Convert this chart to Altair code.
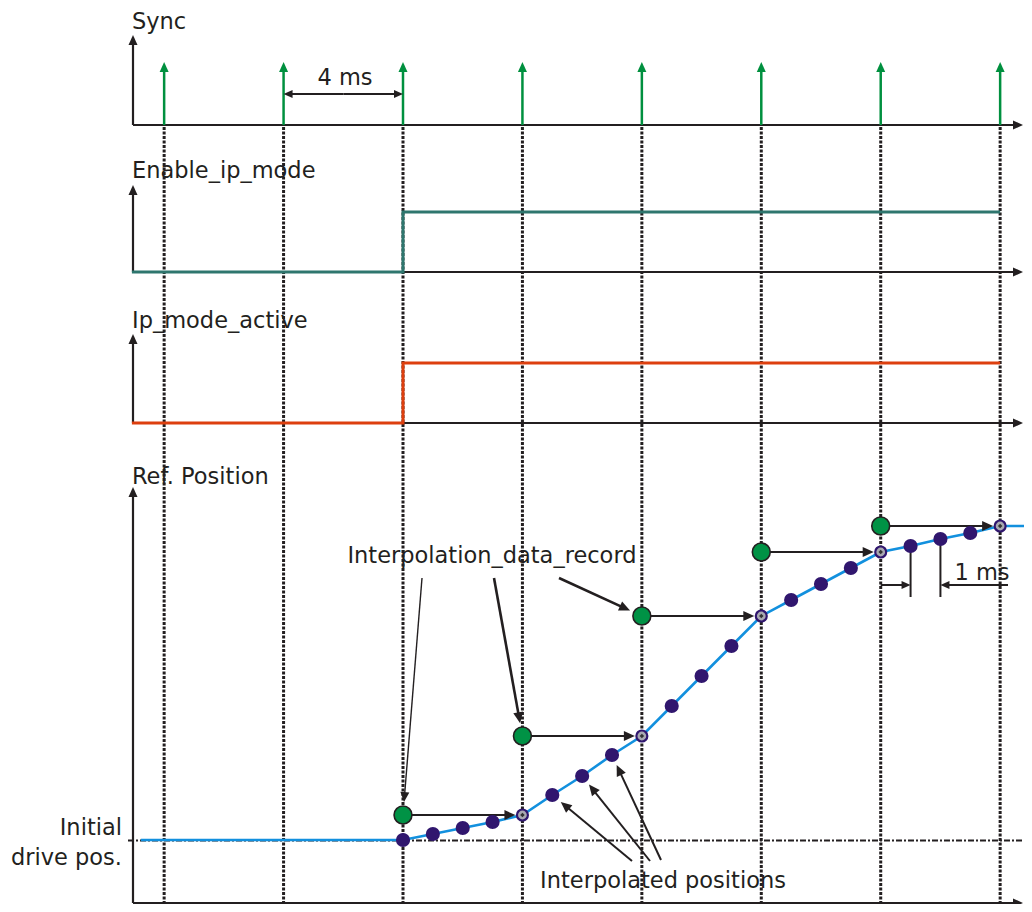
import math
import altair as alt
import pandas as pd

# ---------------- data ----------------
SYNC_T = [-8, -4, 0, 4, 8, 12, 16, 20]                 # sync pulses, ms
ENABLE_T = [-9.08, 0, 0, 20]                           # Enable_ip_mode
ENABLE_V = [0, 0, 1, 1]
IPACT_T = [-9.08, 0, 0, 20]                            # Ip_mode_active
IPACT_V = [0, 0, 1, 1]
INTERP_T = [0, 1, 2, 3, 4, 5, 6, 7, 8, 9, 10, 11, 12, 13, 14, 15, 16, 17, 18, 19, 20]
INTERP_POS = [0, 6, 12, 18, 25, 45, 64, 85, 104, 134, 164, 194, 224,
              240, 256, 272, 288, 294, 301, 307, 314]
HATCH_T = [4, 8, 12, 16, 20]                           # reached record targets
RECORD_T = [0, 4, 8, 12, 16]                           # Interpolation_data_record
RECORD_POS = [25, 104, 224, 288, 314]
HOLD_T0 = -8.78                                        # initial drive pos. held from
LINE_T_END = 20.87
DIM_T = [17, 18]                                       # "1 ms" dimension

# ---------------- layout ----------------
X0 = 403.0          # pixel of t = 0
PPM = 29.857        # pixels per ms


def tx(p):
    return (p - X0) / PPM


def px(t):
    return X0 + t * PPM


AXIS_X = 133
AXIS_END = 1023
SYNC_BASE, SYNC_TOP, PULSE_H = 125, 35, 63
EN_BASE, EN_TOP, EN_H = 272, 185, 60
IP_BASE, IP_TOP, IP_H = 423, 334, 60
REF_BASE, REF_TOP, REF_ZERO = 903, 487, 840
DOT_TOP = 127

INK = "#231F20"
GREEN = "#00903F"
TEAL = "#2E766E"
ORANGE = "#DD3F0E"
BLUE = "#1290DE"
PURPLE = "#30166E"
FONT = "DejaVu Sans"
FS = 22.5

XS = alt.Scale(domain=[tx(8), tx(1024)], nice=False, zero=False)
YS = alt.Scale(domain=[8, 904], reverse=True, nice=False, zero=False)
HEAD = "M0,0L-0.45,1L0.45,1Z"


def X(f="t"):
    return alt.X(f + ":Q", scale=XS, axis=None)


def Y(f="y"):
    return alt.Y(f + ":Q", scale=YS, axis=None)


def arrow(x1, y1, x2, y2, L):
    dx, dy = x2 - x1, y2 - y1
    d = math.hypot(dx, dy)
    ux, uy = dx / d, dy / d
    bx, by = x2 - ux * (L - 1.5), y2 - uy * (L - 1.5)
    ang = math.degrees(math.atan2(dx, -dy)) % 360
    return (tx(x1), y1, tx(bx), by), (tx(x2), y2, ang, (2 * L) ** 2)


def segs(rows, color, width, dash=None):
    df = pd.DataFrame(rows, columns=["t", "y", "t2", "y2"])
    kw = dict(color=color, strokeWidth=width, strokeCap="butt")
    if dash:
        kw["strokeDash"] = dash
    return alt.Chart(df).mark_rule(**kw).encode(
        x=X(), y=Y(), x2="t2:Q", y2="y2:Q")


def heads(rows, color):
    df = pd.DataFrame(rows, columns=["t", "y", "ang", "sz"])
    return alt.Chart(df).mark_point(
        shape=HEAD, filled=True, color=color, opacity=1, strokeWidth=0
    ).encode(x=X(), y=Y(),
             angle=alt.Angle("ang:Q", scale=None),
             size=alt.Size("sz:Q", scale=None))


def arrows(specs, color, width, L):
    s, h = [], []
    for (x1, y1, x2, y2) in specs:
        a, b = arrow(x1, y1, x2, y2, L)
        s.append(a)
        h.append(b)
    return [segs(s, color, width), heads(h, color)]


def ref_y(pos):
    return REF_ZERO - pos


layers = []

# dotted sync grid lines
layers.append(segs([(t, DOT_TOP, t, REF_BASE) for t in SYNC_T], INK, 3, [3, 1.5]))
# initial drive position reference
layers.append(segs([(tx(128), REF_ZERO + 0.5, tx(1024), REF_ZERO + 0.5)], INK, 2, [6, 2, 2, 2]))

# axes
ax_specs = []
for base, top in [(SYNC_BASE, SYNC_TOP), (EN_BASE, EN_TOP), (IP_BASE, IP_TOP), (REF_BASE, REF_TOP)]:
    ax_specs.append((AXIS_X, base, AXIS_X, top))
    ax_specs.append((AXIS_X, base, AXIS_END, base))
layers += arrows(ax_specs, INK, 2.2, 10)

# sync pulses
layers += arrows([(px(t), SYNC_BASE, px(t), SYNC_BASE - PULSE_H) for t in SYNC_T], GREEN, 2.5, 10)

# 4 ms dimension
layers += arrows([(px(-2), 94, px(-4), 94), (px(-2), 94, px(0), 94)], INK, 2, 9)

# logic signals
en_df = pd.DataFrame({"t": ENABLE_T, "y": [EN_BASE - v * EN_H for v in ENABLE_V], "o": range(4)})
layers.append(alt.Chart(en_df).mark_line(color=TEAL, strokeWidth=3).encode(x=X(), y=Y(), order="o:Q"))
ip_df = pd.DataFrame({"t": IPACT_T, "y": [IP_BASE - v * IP_H for v in IPACT_V], "o": range(4)})
layers.append(alt.Chart(ip_df).mark_line(color=ORANGE, strokeWidth=3).encode(x=X(), y=Y(), order="o:Q"))

# reference position line
lt = [HOLD_T0] + INTERP_T + [LINE_T_END]
lp = [0] + INTERP_POS + [INTERP_POS[-1]]
line_df = pd.DataFrame({"t": lt, "y": [ref_y(p) for p in lp], "o": range(len(lt))})
layers.append(alt.Chart(line_df).mark_line(color=BLUE, strokeWidth=2.6).encode(x=X(), y=Y(), order="o:Q"))

# 1 ms dimension
pos_at = dict(zip(INTERP_T, INTERP_POS))
layers.append(segs([(t, ref_y(pos_at[t]), t, 597) for t in DIM_T], INK, 2))
layers += arrows([(px(16), 585, px(DIM_T[0]), 585), (1008, 585, px(DIM_T[1]), 585)], INK, 2, 9)

# record -> target arrows
rec_specs = [(px(t) + 9, ref_y(p), px(t + 4) - 7, ref_y(p)) for t, p in zip(RECORD_T, RECORD_POS)]
layers += arrows(rec_specs, INK, 2.2, 11)

# annotation arrows: Interpolation_data_record
rec_tails = [(422, 578), (494, 578), (559, 578)]
ann = []
for (tx_, ty_), t, p in zip(rec_tails, RECORD_T[:3], RECORD_POS[:3]):
    cx, cy = px(t), ref_y(p)
    d = math.hypot(tx_ - cx, ty_ - cy)
    ann.append((tx_, ty_, cx + 13 * (tx_ - cx) / d, cy + 13 * (ty_ - cy) / d))
layers += arrows(ann[:1], INK, 1.4, 10)
layers += arrows(ann[1:], INK, 2.6, 11)

# annotation arrows: Interpolated positions
ip_tails = [(632, 861), (650, 861), (661, 860)]
ann2 = []
for (tx_, ty_), t in zip(ip_tails, [5, 6, 7]):
    cx, cy = px(t), ref_y(pos_at[t])
    d = math.hypot(tx_ - cx, ty_ - cy)
    ann2.append((tx_, ty_, cx + 11 * (tx_ - cx) / d, cy + 11 * (ty_ - cy) / d))
layers += arrows(ann2, INK, 2, 11)

# interpolated points
dots = pd.DataFrame({"t": [t for t in INTERP_T if t not in HATCH_T],
                     "y": [ref_y(p) for t, p in zip(INTERP_T, INTERP_POS) if t not in HATCH_T]})
layers.append(alt.Chart(dots).mark_point(shape="circle", filled=True, color=PURPLE, opacity=1, size=200)
              .encode(x=X(), y=Y()))
hat = pd.DataFrame({"t": HATCH_T, "y": [ref_y(pos_at[t]) for t in HATCH_T]})
layers.append(alt.Chart(hat).mark_point(shape="circle", filled=True, fill="#A9A9B2", stroke=PURPLE,
                                        strokeWidth=2.2, opacity=1, size=120).encode(x=X(), y=Y()))
layers.append(alt.Chart(hat).mark_point(shape="diamond", filled=True, color="#333333", opacity=1, size=20)
              .encode(x=X(), y=Y()))
rec = pd.DataFrame({"t": RECORD_T, "y": [ref_y(p) for p in RECORD_POS]})
layers.append(alt.Chart(rec).mark_point(shape="circle", filled=True, fill="#009245", stroke=INK,
                                        strokeWidth=1.6, opacity=1, size=320).encode(x=X(), y=Y()))

# texts
TEXTS = [
    ("Sync", 132, 29, "left"),
    ("Enable_ip_mode", 132, 178, "left"),
    ("Ip_mode_active", 132, 328, "left"),
    ("Ref. Position", 132, 484, "left"),
    ("4 ms", 345, 85, "center"),
    ("Interpolation_data_record", 492, 563, "center"),
    ("1 ms", 982, 580, "center"),
    ("Initial", 122, 835, "right"),
    ("drive pos.", 122, 865, "right"),
    ("Interpolated positions", 663, 888, "center"),
]
for label, xp, yp, al in TEXTS:
    df = pd.DataFrame({"t": [tx(xp)], "y": [yp], "s": [label]})
    layers.append(alt.Chart(df).mark_text(font=FONT, fontSize=FS, color=INK, align=al,
                                          baseline="alphabetic").encode(x=X(), y=Y(), text="s:N"))

chart = alt.layer(*layers).properties(
    width=1016, height=896, padding=0, autosize=alt.AutoSizeParams(type="none"),
    background="white"
).configure_view(stroke=None)

chart.save("out.html", embed_options={"renderer": "svg", "actions": False})
